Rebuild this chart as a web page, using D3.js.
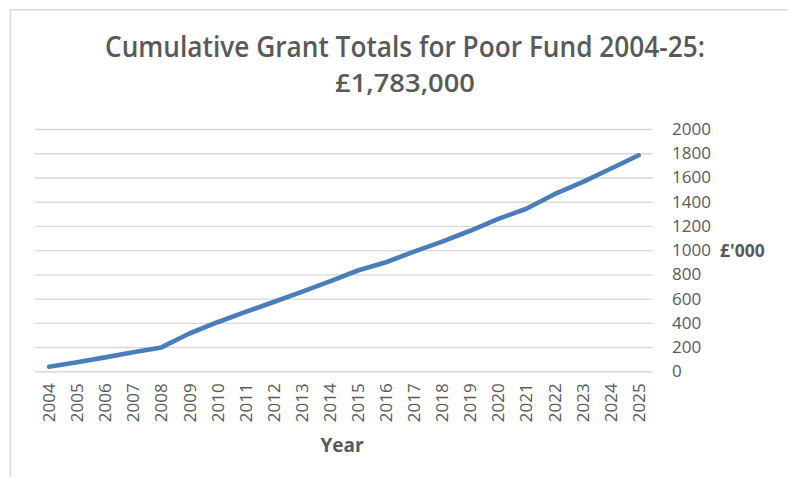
<!DOCTYPE html>
<html>
<head>
<meta charset="utf-8">
<script src="https://cdn.jsdelivr.net/npm/d3@7"></script>
<style>
  html, body { margin: 0; padding: 0; background: #fff; }
  svg { display: block; }
</style>
</head>
<body>
<svg id="chart" width="788" height="477"></svg>
<script>
const titleLines = ["Cumulative Grant Totals for Poor Fund 2004-25:", "£1,783,000"];
const years = ["2004","2005","2006","2007","2008","2009","2010","2011","2012","2013","2014",
               "2015","2016","2017","2018","2019","2020","2021","2022","2023","2024","2025"];
const totals = [38, 74, 115, 157, 197, 312, 405, 490, 572, 655, 743,
                832, 900, 988, 1070, 1160, 1258, 1342, 1462, 1562, 1672, 1783];
const yTicks = [0, 200, 400, 600, 800, 1000, 1200, 1400, 1600, 1800, 2000];
const xTitle = "Year";
const yTitle = "£'000";

(function () {
const svg = d3.select("#chart");
const W = 788, H = 477;
const pLeft = 35, pRight = 652.7, pTop = 129, pBottom = 371.3;
const grey = "#595959";
const font = "'Open Sans', 'Liberation Sans', sans-serif";

// frame
svg.append("path")
  .attr("d", `M10.5,${H} V9.8 H${W}`)
  .attr("fill", "none").attr("stroke", "#d9d9d9").attr("stroke-width", 1.6);

const x = d3.scaleBand().domain(years).range([pLeft, pRight]);
const y = d3.scaleLinear().domain([0, 2000]).range([pBottom, pTop]);

// gridlines
svg.append("g")
  .attr("transform", `translate(${pLeft},0)`)
  .call(d3.axisLeft(y).tickValues(yTicks).tickSize(-(pRight - pLeft)).tickFormat(""))
  .call(g => g.select(".domain").remove())
  .call(g => g.selectAll("line").attr("stroke", "#d9d9d9").attr("stroke-width", 1.4));

// right y axis labels
svg.append("g")
  .attr("transform", `translate(${pRight},0)`)
  .call(d3.axisRight(y).tickValues(yTicks).tickSize(0).tickPadding(19.3).tickFormat(d3.format("d")))
  .call(g => g.select(".domain").remove())
  .call(g => g.selectAll("text")
    .attr("fill", grey).attr("font-family", font).attr("font-size", "17px"));

// x axis labels
svg.append("g")
  .attr("transform", `translate(0,${pBottom})`)
  .call(d3.axisBottom(x).tickSize(0))
  .call(g => g.select(".domain").remove())
  .call(g => g.selectAll("text")
    .attr("fill", grey).attr("font-family", font).attr("font-size", "17px")
    .attr("transform", "rotate(-90)")
    .attr("text-anchor", "end")
    .attr("x", -12).attr("y", 0).attr("dy", "0.36em"));

// line
const line = d3.line()
  .x((d, i) => x(years[i]) + x.bandwidth() / 2)
  .y(d => y(d));
svg.append("path")
  .datum(totals)
  .attr("d", line)
  .attr("fill", "none")
  .attr("stroke", "#4a7ebb")
  .attr("stroke-width", 4.6)
  .attr("stroke-linecap", "round")
  .attr("stroke-linejoin", "round");

// title
svg.append("text")
  .attr("x", 405).attr("y", 56.7)
  .attr("text-anchor", "middle")
  .attr("font-family", font).attr("font-weight", 600).attr("font-size", "28px")
  .attr("fill", grey)
  .attr("textLength", 600).attr("lengthAdjust", "spacingAndGlyphs")
  .text(titleLines[0]);
svg.append("text")
  .attr("x", 405).attr("y", 91.7)
  .attr("text-anchor", "middle")
  .attr("font-family", font).attr("font-weight", 600).attr("font-size", "25.6px")
  .attr("fill", grey)
  .attr("textLength", 140).attr("lengthAdjust", "spacingAndGlyphs")
  .text(titleLines[1]);

// axis titles
svg.append("text")
  .attr("x", 342).attr("y", 451.5)
  .attr("text-anchor", "middle")
  .attr("font-family", font).attr("font-weight", 700).attr("font-size", "19px")
  .attr("fill", grey)
  .text(xTitle);
svg.append("text")
  .attr("x", 720).attr("y", 256.7)
  .attr("font-family", font).attr("font-weight", 700).attr("font-size", "17.5px")
  .attr("fill", grey)
  .text(yTitle);
})();
</script>
</body>
</html>
